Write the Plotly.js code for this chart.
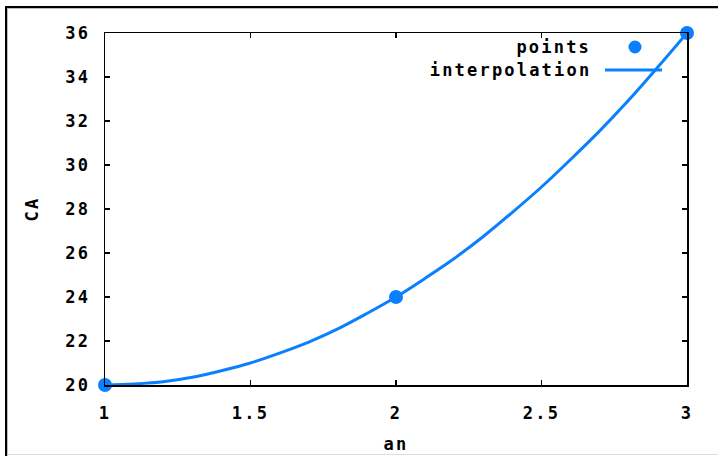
<!DOCTYPE html>
<html>
<head>
<meta charset="utf-8">
<script src="https://cdn.plot.ly/plotly-3.0.1.min.js"></script>
<style>
  html, body { margin: 0; padding: 0; background: #fff; }
  #wrap { position: relative; width: 718px; height: 456px; overflow: hidden; }
  #chart { position: absolute; left: 0; top: 0; width: 718px; height: 456px; }
  #frame { position: absolute; left: 5px; top: 6px; width: 800px; height: 460px;
           border-top: 2px solid #000; border-left: 2px solid #000; pointer-events: none; }
  #frame2 { position: absolute; left: 7px; top: 8px; width: 800px; height: 460px;
           border-top: 1px solid #bbb; border-left: 1px solid #bbb; pointer-events: none; }
  #bottom { position: absolute; left: 7px; top: 454px; width: 720px; height: 1px; background: #ddd; }
  .main-svg text { letter-spacing: 2.2px; }
</style>
</head>
<body>
<div id="wrap">
  <div id="chart"></div>
  <div id="frame"></div>
  <div id="frame2"></div>
  <div id="bottom"></div>
</div>
<script>
// Data points (an, CA)
var pointsX = [1, 2, 3];
var pointsY = [20, 24, 36];

// Interpolation curve, values
var curveX = [1.0, 1.1, 1.2, 1.3, 1.4, 1.5, 1.6, 1.7, 1.8, 1.9, 2.0,
              2.1, 2.2, 2.3, 2.4, 2.5, 2.6, 2.7, 2.8, 2.9, 3.0];
var curveY = [20.0, 20.05, 20.15, 20.35, 20.65, 21.0, 21.45, 21.95, 22.55, 23.25, 24.0,
              24.85, 25.75, 26.75, 27.85, 29.0, 30.25, 31.55, 32.95, 34.45, 36.0];

var xTicks = [1, 1.5, 2, 2.5, 3];
var xTickText = ['1', '1.5', '2', '2.5', '3'];
var yTicks = [20, 22, 24, 26, 28, 30, 32, 34, 36];

var legendLabels = ['points', 'interpolation'];

var BLUE = '#0a80ff';
var LS = 2.2;
var FONT = { family: 'DejaVu Sans Mono', size: 17, color: '#000', weight: 'bold' };

var W = 718, H = 456;
var M = { l: 105, r: 31, t: 33, b: 71 };
function pxX(px) { return (px - M.l) / (W - M.l - M.r); }
function pxY(py) { return (H - M.b - py) / (H - M.t - M.b); }

var traces = [
  { x: curveX, y: curveY, mode: 'lines', type: 'scatter', name: legendLabels[1],
    line: { color: BLUE, width: 3, shape: 'spline' }, hoverinfo: 'none', showlegend: false, cliponaxis: false },
  { x: pointsX, y: pointsY, mode: 'markers', type: 'scatter', name: legendLabels[0],
    marker: { color: BLUE, size: 14 }, hoverinfo: 'none', showlegend: false, cliponaxis: false }
];

var axisCommon = {
  showgrid: false, zeroline: false, showline: true, linecolor: '#000', linewidth: 1.5,
  mirror: 'ticks', ticks: 'inside', ticklen: 5, tickwidth: 1.5, tickcolor: '#000',
  tickfont: FONT
};

function legendText(label, py) {
  return { xref: 'paper', yref: 'paper', x: pxX(593), y: pxY(py), xanchor: 'right', yanchor: 'middle',
           xshift: -(label.length * LS) / 2,
           text: label, showarrow: false, font: FONT };
}

var layout = {
  width: W, height: H,
  margin: M,
  paper_bgcolor: '#fff', plot_bgcolor: '#fff',
  showlegend: false,
  font: FONT,
  xaxis: Object.assign({}, axisCommon, {
    range: [1, 3], tickvals: xTicks, ticktext: xTickText,
    ticklabelstandoff: 12,
    title: { text: 'an', font: FONT, standoff: 16 }
  }),
  yaxis: Object.assign({}, axisCommon, {
    range: [20, 36], tickvals: yTicks,
    ticklabelstandoff: 10,
    title: { text: 'CA', font: FONT, standoff: 26 }
  }),
  annotations: [
    legendText(legendLabels[0], 47),
    legendText(legendLabels[1], 70)
  ],
  shapes: [
    { type: 'circle', xref: 'paper', yref: 'paper',
      x0: pxX(628.5), x1: pxX(641.5), y0: pxY(53.5), y1: pxY(40.5),
      fillcolor: BLUE, line: { color: BLUE, width: 0 } },
    { type: 'line', xref: 'paper', yref: 'paper',
      x0: pxX(605), x1: pxX(662), y0: pxY(70), y1: pxY(70),
      line: { color: BLUE, width: 3 } }
  ]
};

Plotly.newPlot('chart', traces, layout, { staticPlot: true, displayModeBar: false });
</script>
</body>
</html>
